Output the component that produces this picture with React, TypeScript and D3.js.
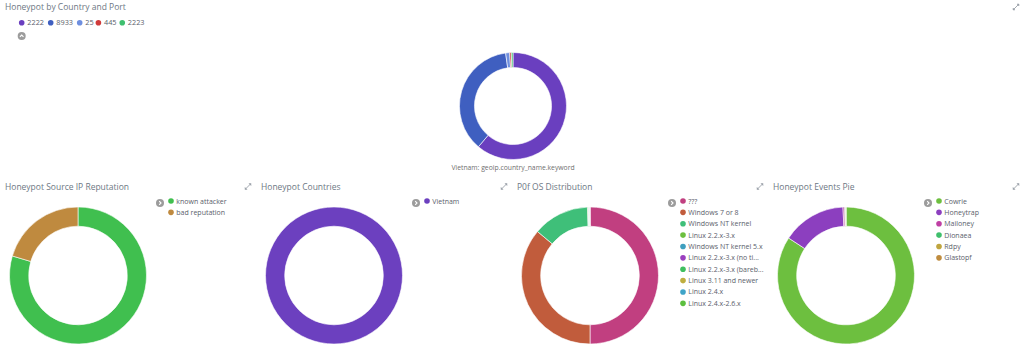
import React from "react";
import * as d3 from "d3";

// ---- Data ----
const portLabels = ["2222", "8933", "25", "445", "2223"];
const portValues = [6120, 3660, 120, 50, 50];
const portColors = ["#6a3fbf", "#3f5fc0", "#6f8fdf", "#d03a3a", "#3fbf6f"];

const repLabels = ["known attacker", "bad reputation"];
const repValues = [796, 204];
const repColors = ["#40bf4f", "#bf8a3f"];

const countryLabels = ["Vietnam"];
const countryValues = [1000];
const countryColors = ["#6c40bf"];

const osLabels = [
  "???",
  "Windows 7 or 8",
  "Windows NT kernel",
  "Linux 2.2.x-3.x",
  "Windows NT kernel 5.x",
  "Linux 2.2.x-3.x (no ti...",
  "Linux 2.2.x-3.x (bareb...",
  "Linux 3.11 and newer",
  "Linux 2.4.x",
  "Linux 2.4.x-2.6.x",
];
const osValues = [5000, 3610, 1330, 20, 12, 8, 7, 5, 4, 4];
const osColors = [
  "#c13f80",
  "#c15c3c",
  "#3fbf79",
  "#6cbf3f",
  "#3f9fbf",
  "#9a3fbf",
  "#3fbf5f",
  "#bfae3f",
  "#3fa4c8",
  "#5cbf3f",
];

const eventLabels = ["Cowrie", "Honeytrap", "Mailoney", "Dionaea", "Rdpy", "Glastopf"];
const eventValues = [8420, 1510, 40, 15, 10, 5];
const eventColors = ["#6dbf3f", "#8c3fbf", "#bf3fa4", "#3fbf6c", "#bfa53f", "#bf8c3f"];

const panelTitles = [
  "Honeypot Source IP Reputation",
  "Honeypot Countries",
  "P0f OS Distribution",
  "Honeypot Events Pie",
];

const FONT = "'Open Sans', 'Noto Sans', sans-serif";
const TITLE_COLOR = "#6e7884";
const TEXT_COLOR = "#5a606b";

function Donut({ cx, cy, r, values, colors }: { cx: number; cy: number; r: number; values: number[]; colors: string[] }) {
  const pie = d3.pie<number>().sort(null).value((d) => d);
  const arc = d3.arc<d3.PieArcDatum<number>>().innerRadius(r * 0.72).outerRadius(r);
  const arcs = pie(values);
  return (
    <g transform={`translate(${cx},${cy})`}>
      {arcs.map((a, i) => (
        <path key={i} d={arc(a) || ""} fill={colors[i]} stroke="#ffffff" strokeWidth={0.6} />
      ))}
    </g>
  );
}

function ExpandIcon({ x, y }: { x: number; y: number }) {
  return (
    <g transform={`translate(${x},${y})`} stroke="#9aa0a8" strokeWidth={0.9} fill="#9aa0a8">
      <line x1={-2.6} y1={2.6} x2={2.6} y2={-2.6} />
      <path d="M1,-3 L3,-3 L3,-1 Z" strokeWidth={0.5} />
      <path d="M-3,1 L-3,3 L-1,3 Z" strokeWidth={0.5} />
    </g>
  );
}

function ChevronCircle({ x, y, dir }: { x: number; y: number; dir: "up" | "right" }) {
  const d = dir === "up" ? "M-1.8,0.9 L0,-0.9 L1.8,0.9" : "M-0.8,-1.8 L1,0 L-0.8,1.8";
  return (
    <g transform={`translate(${x},${y})`}>
      <circle r={4} fill="#9c9c9c" />
      <path d={d} fill="none" stroke="#ffffff" strokeWidth={1.1} />
    </g>
  );
}

function Panel({ index, title, labels, values, colors }: { index: number; title: string; labels: string[]; values: number[]; colors: string[] }) {
  const x0 = index * 256;
  const legendY = d3.scaleLinear().domain([0, 1]).range([201, 212.37]);
  return (
    <g>
      <text x={x0 + 5} y={190} fontSize={8.5} fill={TITLE_COLOR} fontFamily={FONT}>
        {title}
      </text>
      <ExpandIcon x={x0 + 248} y={186.5} />
      <Donut cx={x0 + 78} cy={275.5} r={68.5} values={values} colors={colors} />
      <ChevronCircle x={x0 + 160} y={203} dir="right" />
      {labels.map((l, i) => (
        <g key={i}>
          <circle cx={x0 + 171} cy={legendY(i)} r={2.8} fill={colors[i]} />
          <text x={x0 + 176.3} y={legendY(i) + 2.5} fontSize={7} fill={TEXT_COLOR} fontFamily={FONT}>
            {l}
          </text>
        </g>
      ))}
    </g>
  );
}

export default function App() {
  // top legend layout (horizontal flow)
  let cursor = 21.7;
  const topLegend = portLabels.map((l, i) => {
    const item = { x: cursor, label: l, color: portColors[i] };
    cursor += 8.4 + 5.15 * l.length;
    return item;
  });
  return (
    <svg width={1024} height={363} style={{ position: "absolute", left: 0, top: 0, background: "#ffffff" }}>
      <rect width={1024} height={363} fill="#ffffff" />
      <text x={5} y={10.3} fontSize={8.5} fill={TITLE_COLOR} fontFamily={FONT}>
        Honeypot by Country and Port
      </text>
      <ExpandIcon x={1016} y={7} />
      {topLegend.map((it, i) => (
        <g key={i}>
          <circle cx={it.x} cy={22.7} r={2.8} fill={it.color} />
          <text x={it.x + 5.6} y={25.2} fontSize={7.3} fill={TEXT_COLOR} fontFamily={FONT}>
            {it.label}
          </text>
        </g>
      ))}
      <ChevronCircle x={21.7} y={36} dir="up" />
      <Donut cx={513} cy={106} r={53.5} values={portValues} colors={portColors} />
      <text x={513} y={170} fontSize={6.8} fill="#6f6f6f" fontFamily={FONT} textAnchor="middle">
        Vietnam: geoip.country_name.keyword
      </text>
      <Panel index={0} title={panelTitles[0]} labels={repLabels} values={repValues} colors={repColors} />
      <Panel index={1} title={panelTitles[1]} labels={countryLabels} values={countryValues} colors={countryColors} />
      <Panel index={2} title={panelTitles[2]} labels={osLabels} values={osValues} colors={osColors} />
      <Panel index={3} title={panelTitles[3]} labels={eventLabels} values={eventValues} colors={eventColors} />
    </svg>
  );
}
